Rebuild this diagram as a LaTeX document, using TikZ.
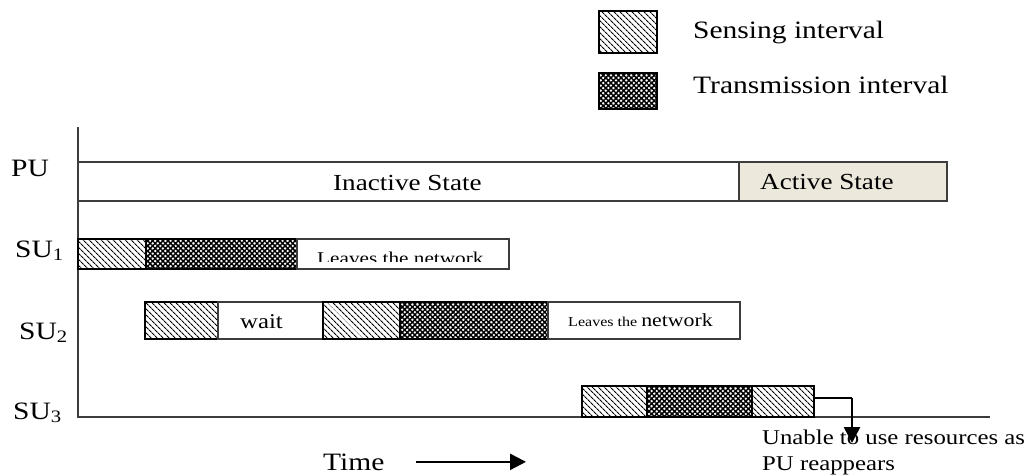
\documentclass[tikz,border=0pt]{standalone}
\usepackage{fontspec}
\setmainfont{Liberation Serif}[FakeStretch=1.18]
\usetikzlibrary{patterns.meta,arrows.meta}

\definecolor{edge}{HTML}{3C3C3C}
\definecolor{activefill}{HTML}{ECE9DC}

\tikzset{
  box/.style={draw=edge, line width=1.4pt, inner sep=0pt, outer sep=0pt,
              anchor=north west, minimum height=#1},
  sensbox/.style={box=#1, draw=black,
              pattern={Lines[angle=-45,distance=4pt,line width=1.1pt]}},
  txbox/.style={box=#1, draw=black,
              pattern={Lines[angle=45,distance=3.6pt,line width=1.5pt]},
              postaction={pattern={Lines[angle=-45,distance=3.6pt,line width=1.5pt]}}},
  lab/.style={inner sep=0pt, anchor=base west, font=\fontsize{#1}{#1}\selectfont},
  axis/.style={draw=edge, line width=1.5pt},
  bigarrow/.style={line width=2.6pt, -{Triangle[length=16pt,width=16pt]}},
}

\begin{document}
\begin{tikzpicture}[x=1pt,y=-1pt]
\useasboundingbox (0,0) rectangle (1027,475);

% legend
\node[sensbox=42pt, minimum width=58pt] (legsens) at (599,11) {};
\node[txbox=36pt, minimum width=58pt] (legtx) at (599,73) {};
\node[lab=25] (legsenstxt) at (693,38) {Sensing interval};
\node[lab=25] (legtxtxt) at (693,93) {Transmission interval};

% axes
\coordinate (ytop) at (78,127);
\coordinate (origin) at (78,417);
\coordinate (xend) at (990,417);
\draw[axis] (ytop) -- (origin) -- (xend);

% row labels
\node[lab=25] (pu) at (11,176) {PU};
\node[lab=25] (su1) at (15,257) {SU\textsubscript{1}};
\node[lab=25] (su2) at (19,339) {SU\textsubscript{2}};
\node[lab=25] (su3) at (13,419) {SU\textsubscript{3}};

% primary user
\node[box=39pt, minimum width=661pt, fill=white] (inactive) at (78,162) {};
\node[box=39pt, minimum width=208pt, fill=activefill] (active) at (739,162) {};
\node[lab=23] (inactivetxt) at (333,190) {Inactive State};
\node[lab=23] (activetxt) at (760,189) {Active State};

% secondary user 1
\node[sensbox=30pt, minimum width=68pt] (s1a) at (78,239) {};
\node[txbox=30pt, minimum width=151pt] (s1b) at (146,239) {};
\node[box=30pt, minimum width=212pt, fill=white] (s1c) at (297,239) {};
\begin{scope}
  \clip (s1c.north west) rectangle (509,261);
  \node[lab=18] (s1leave) at (317,264) {Leaves the network};
\end{scope}

% secondary user 2
\node[sensbox=37pt, minimum width=73pt] (s2a) at (145,302) {};
\node[box=37pt, minimum width=105pt, fill=white] (s2b) at (218,302) {};
\node[sensbox=37pt, minimum width=77pt] (s2c) at (323,302) {};
\node[txbox=37pt, minimum width=148pt] (s2d) at (400,302) {};
\node[box=37pt, minimum width=192pt, fill=white] (s2e) at (548,302) {};
\node[lab=21] (waittxt) at (240,328) {wait};
\node[lab=13.6] (s2leave) at (568,326)
  {Leaves the {\fontsize{18.5}{18.5}\selectfont network}};

% secondary user 3
\node[sensbox=31pt, minimum width=65pt] (s3a) at (582,386) {};
\node[txbox=31pt, minimum width=105pt] (s3b) at (647,386) {};
\node[sensbox=31pt, minimum width=62pt] (s3c) at (752,386) {};

% PU reappears while SU3 is still transmitting
\coordinate (turn) at (852,398);
\coordinate (tip) at (852,443);
\draw[line width=1.3pt] (s3c.east |- turn) -- (turn);
\draw[bigarrow] (turn) -- (tip);
\node[lab=21] (note1) at (762,444) {Unable to use resources as};
\node[lab=21] (note2) at (762,470) {PU reappears};

% time direction
\node[lab=25] (time) at (323,470) {Time};
\coordinate (tend) at (526,463);
\draw[bigarrow, line width=2.4pt] ([xshift=31pt]time.east) -- (tend |- time.east);
\end{tikzpicture}
\end{document}
